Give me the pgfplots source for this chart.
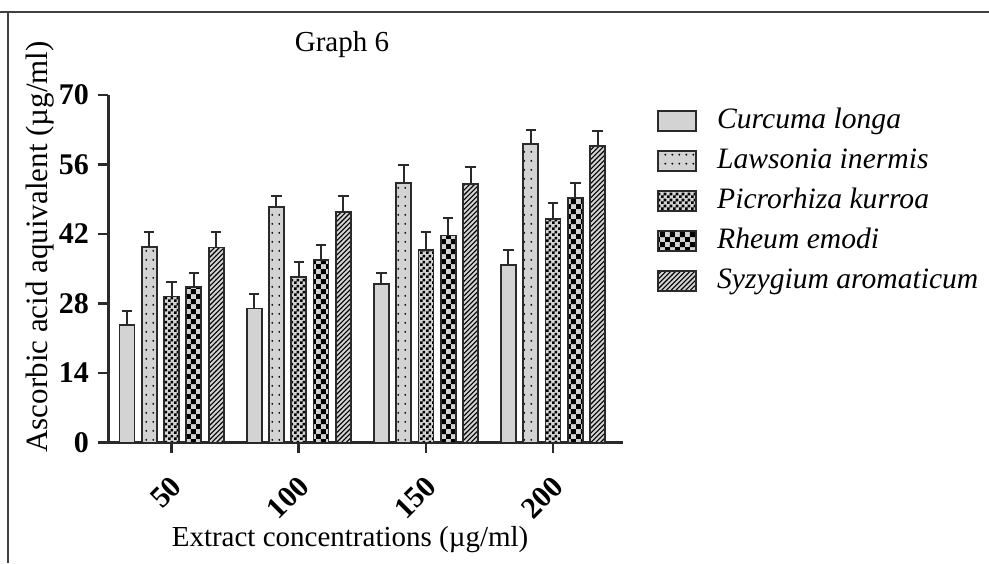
\documentclass[border=0pt]{standalone}
\usepackage{fontspec}
\setmainfont{Liberation Serif}
\usepackage{pgfplots}
\pgfplotsset{compat=1.18}
\usetikzlibrary{patterns}

\definecolor{barfill}{HTML}{D3D3D3}
\definecolor{edge}{HTML}{2A2A2A}

% bar patterns
\pgfdeclarepatternformonly{sparsedots}{\pgfqpoint{0pt}{0pt}}{\pgfqpoint{3.6pt}{4.6pt}}{\pgfqpoint{3.6pt}{4.6pt}}{%
  \pgfpathcircle{\pgfqpoint{1.8pt}{2.3pt}}{0.55pt}\pgfusepath{fill}}
\pgfdeclarepatternformonly{finechecker}{\pgfqpoint{0pt}{0pt}}{\pgfqpoint{2.8pt}{2.8pt}}{\pgfqpoint{2.8pt}{2.8pt}}{%
  \pgfpathrectangle{\pgfqpoint{0pt}{0pt}}{\pgfqpoint{1.4pt}{1.4pt}}%
  \pgfpathrectangle{\pgfqpoint{1.4pt}{1.4pt}}{\pgfqpoint{1.4pt}{1.4pt}}\pgfusepath{fill}}
\pgfdeclarepatternformonly{bigchecker}{\pgfqpoint{0pt}{0pt}}{\pgfqpoint{5.2pt}{5.2pt}}{\pgfqpoint{5.2pt}{5.2pt}}{%
  \pgfpathrectangle{\pgfqpoint{0pt}{0pt}}{\pgfqpoint{2.6pt}{2.6pt}}%
  \pgfpathrectangle{\pgfqpoint{2.6pt}{2.6pt}}{\pgfqpoint{2.6pt}{2.6pt}}\pgfusepath{fill}}
\pgfdeclarepatternformonly{diaglines}{\pgfqpoint{-0.5pt}{-0.5pt}}{\pgfqpoint{2.9pt}{2.9pt}}{\pgfqpoint{2.4pt}{2.4pt}}{%
  \pgfsetlinewidth{0.55pt}\pgfpathmoveto{\pgfqpoint{0pt}{0pt}}\pgfpathlineto{\pgfqpoint{2.5pt}{2.5pt}}\pgfusepath{stroke}}

\newcommand\ftick{\fontsize{15}{18}\selectfont\bfseries}
\newcommand\flab{\fontsize{14.5}{17}\selectfont}
\newcommand\fleg{\fontsize{14.8}{17}\selectfont\itshape}

\pgfplotsset{
  bar/.style={draw=edge, line width=0.9pt, fill=barfill,
    error bars/y dir=plus, error bars/y explicit,
    error bars/error bar style={line width=1pt, edge},
    error bars/error mark options={rotate=90, mark size=2.6pt, line width=1pt, edge}},
}

\begin{document}
\begin{tikzpicture}[x=1pt,y=1pt]
\useasboundingbox (0,0) rectangle (494.5,281.5);
\draw[line width=1pt, black!75] (0,275.5) -- (494.5,275.5);
\draw[line width=1pt, black!75] (4,0) -- (4,275.5);
\node[font=\fontsize{14.5}{17}\selectfont] at (171,259) {Graph 6};
\begin{axis}[
  at={(54pt,60.25pt)}, anchor=south west,
  scale only axis, width=257.5pt, height=173.75pt,
  xmin=0.5, xmax=4.55, ymin=0, ymax=70,
  axis lines*=left,
  axis line style={line width=1.5pt, edge},
  ybar=3.65pt, bar width=7.5pt,
  xtick={1,2,3,4}, xticklabels={50,100,150,200},
  ytick={0,14,28,42,56,70},
  tick align=outside, major tick length=5pt,
  tick style={line width=1.25pt, edge},
  /pgf/number format/assume math mode=true,
  y tick label style={font=\ftick, xshift=-1pt},
  x tick label style={font=\ftick, xshift=5pt, yshift=-12pt, rotate=45, anchor=east},
  xlabel={Extract concentrations (µg/ml)},
  ylabel={Ascorbic acid aquivalent (µg/ml)},
  xlabel style={font=\flab, at={(axis description cs:0.470,-0.28)}, anchor=center},
  ylabel style={font=\fontsize{15.5}{17}\selectfont, at={(axis description cs:-0.132,0.563)}, anchor=center},
  legend image code/.code={\draw[#1] (0pt,-4.5pt) rectangle (19pt,5.5pt);},
  legend cell align=left,
  legend style={at={(axis description cs:1.066,0.962)}, anchor=north west,
    draw=none, fill=none, inner sep=0pt, font=\fleg, row sep=7pt,
    nodes={inner sep=0pt, text height=10pt, text depth=3pt},
    /tikz/every odd column/.append style={column sep=10pt}},
]
% Curcuma longa
\addplot[bar] coordinates {(1,23.7) +- (0,2.8) (2,27.0) +- (0,2.9) (3,31.9) +- (0,2.3) (4,35.7) +- (0,3.1)};
\addlegendentry{Curcuma longa}
% Lawsonia inermis
\addplot[bar, postaction={pattern=sparsedots}] coordinates {(1,39.4) +- (0,3.1) (2,47.4) +- (0,2.2) (3,52.2) +- (0,3.7) (4,60.1) +- (0,2.9)};
\addlegendentry{Lawsonia inermis}
% Picrorhiza kurroa
\addplot[bar, postaction={pattern=finechecker}] coordinates {(1,29.4) +- (0,2.9) (2,33.4) +- (0,3.0) (3,38.8) +- (0,3.7) (4,45.0) +- (0,3.2)};
\addlegendentry{Picrorhiza kurroa}
% Rheum emodi
\addplot[bar, postaction={pattern=bigchecker}] coordinates {(1,31.3) +- (0,2.9) (2,36.8) +- (0,2.9) (3,41.7) +- (0,3.6) (4,49.2) +- (0,3.1)};
\addlegendentry{Rheum emodi}
% Syzygium aromaticum
\addplot[bar, postaction={pattern=diaglines}] coordinates {(1,39.3) +- (0,3.1) (2,46.5) +- (0,3.1) (3,52.0) +- (0,3.6) (4,59.7) +- (0,3.0)};
\addlegendentry{Syzygium aromaticum}
\end{axis}
\end{tikzpicture}
\end{document}
